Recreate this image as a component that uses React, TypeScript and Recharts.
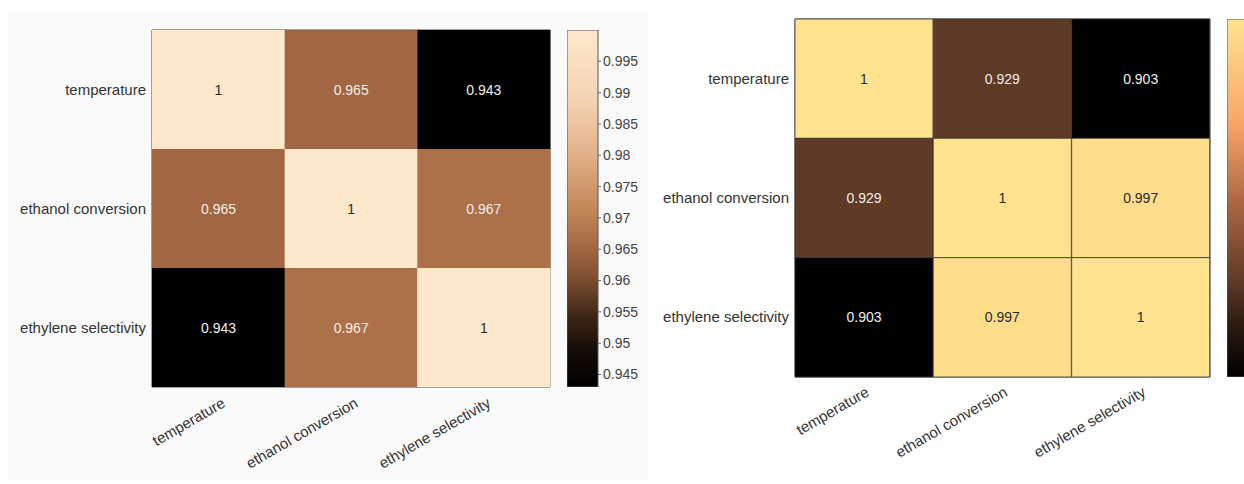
import { Bar, BarChart, Cell, LabelList, ReferenceArea, XAxis, YAxis } from "recharts";

const variables = ["temperature", "ethanol conversion", "ethylene selectivity"];

// left heatmap (correlation coefficients)
const leftTemperature = [1, 0.965, 0.943];
const leftEthanol = [0.965, 1, 0.967];
const leftEthylene = [0.943, 0.967, 1];
const leftRange = [0.943, 1];
const leftTicks = [0.945, 0.95, 0.955, 0.96, 0.965, 0.97, 0.975, 0.98, 0.985, 0.99, 0.995];

// right heatmap
const rightTemperature = [1, 0.929, 0.903];
const rightEthanol = [0.929, 1, 0.997];
const rightEthylene = [0.903, 0.997, 1];
const rightRange = [0.903, 1];

const FONT = "'Liberation Sans', Arial, Helvetica, sans-serif";

type Stop = [number, string];

const leftStops: Stop[] = [
  [0, "#000000"],
  [0.1, "#140c06"],
  [0.2, "#3e2716"],
  [0.3, "#7a4d2f"],
  [0.4, "#a86a45"],
  [0.5, "#c4875a"],
  [0.65, "#e0b088"],
  [0.8, "#f3d2b2"],
  [1, "#fde8cb"]
];

const rightStops: Stop[] = [
  [0, "#000000"],
  [0.15, "#2e1c12"],
  [0.27, "#5f3b27"],
  [0.5, "#b06a44"],
  [0.7, "#f6a466"],
  [1, "#ffe38f"]
];

function hex(c: string) {
  return [1, 3, 5].map((i) => parseInt(c.slice(i, i + 2), 16));
}

function colorAt(stops: Stop[], range: number[], v: number) {
  const t = Math.max(0, Math.min(1, (v - range[0]) / (range[1] - range[0])));
  for (let i = 1; i < stops.length; i++) {
    if (t <= stops[i][0]) {
      const [t0, c0] = stops[i - 1];
      const [t1, c1] = stops[i];
      const f = (t - t0) / (t1 - t0);
      const a = hex(c0);
      const b = hex(c1);
      const m = a.map((x, k) => Math.round(x + (b[k] - x) * f));
      return `rgb(${m[0]},${m[1]},${m[2]})`;
    }
  }
  return stops[stops.length - 1][1];
}

function buildTable(rows: number[][]) {
  return variables.map((name, j) => ({
    name,
    r0: 1,
    r1: 1,
    r2: 1,
    v0: rows[0][j],
    v1: rows[1][j],
    v2: rows[2][j]
  }));
}

const YTick = (props: any) => {
  const { x, y, payload } = props;
  return (
    <text x={x} y={y} dy={5} textAnchor="end" fontSize={15} fill="#333" fontFamily={FONT}>
      {variables[Math.floor(payload.value)]}
    </text>
  );
};

const makeXTick = (dx: number, dy: number) => (props: any) => {
  const { x, y, payload } = props;
  return (
    <g transform={`translate(${x + dx},${y + dy}) rotate(-30)`}>
      <text x={0} y={0} textAnchor="end" fontSize={15} fill="#333" fontFamily={FONT}>
        {payload.value}
      </text>
    </g>
  );
};

function Heatmap(props: {
  rows: number[][];
  stops: Stop[];
  range: number[];
  width: number;
  height: number;
  margin: { top: number; right: number; bottom: number; left: number };
  yWidth: number;
  xHeight: number;
  tickDx: number;
  tickDy: number;
  cellStroke: string;
}) {
  const table = buildTable(props.rows);
  const keys = ["0", "1", "2"];
  const label = (p: any) => {
    const { x, y, width, height, value } = p;
    const dark = value < props.range[0] + (props.range[1] - props.range[0]) * 0.55;
    return (
      <text
        x={x + width / 2}
        y={y + height / 2}
        dy={5}
        textAnchor="middle"
        fontSize={14}
        fontFamily={FONT}
        fill={dark ? "#f2eeea" : "#2a2a2a"}
      >
        {String(value)}
      </text>
    );
  };
  return (
    <BarChart
      width={props.width}
      height={props.height}
      data={table}
      margin={props.margin}
      barCategoryGap={0}
      barGap={0}
    >
      <XAxis
        dataKey="name"
        height={props.xHeight}
        axisLine={false}
        tickLine={false}
        tickSize={0}
        tickMargin={0}
        interval={0}
        tick={makeXTick(props.tickDx, props.tickDy)}
      />
      <YAxis
        type="number"
        domain={[0, 3]}
        reversed
        ticks={[0.5, 1.5, 2.5]}
        width={props.yWidth}
        axisLine={false}
        tickLine={false}
        tickSize={0}
        tickMargin={6}
        tick={<YTick />}
      />
      {keys.map((k) => (
        <Bar
          key={k}
          dataKey={`r${k}`}
          stackId="cells"
          isAnimationActive={false}
          stroke={props.cellStroke}
          strokeWidth={props.cellStroke === "none" ? 0 : 0.8}
        >
          {table.map((d: any) => (
            <Cell key={d.name} fill={colorAt(props.stops, props.range, d[`v${k}`])} />
          ))}
          <LabelList dataKey={`v${k}`} content={label} />
        </Bar>
      ))}
      <ReferenceArea y1={0} y2={3} fill="none" stroke="#444" strokeWidth={1} ifOverflow="visible" />
    </BarChart>
  );
}

function Colorbar(props: {
  id: string;
  stops: Stop[];
  range: number[];
  ticks: number[];
  width: number;
  height: number;
  yWidth: number;
}) {
  const data = [{ name: "cb", span: props.range }];
  return (
    <BarChart
      width={props.width}
      height={props.height}
      data={data}
      margin={{ top: 0, right: 0, bottom: 0, left: 0 }}
      barCategoryGap={0}
    >
      <defs>
        <linearGradient id={props.id} x1="0" y1="0" x2="0" y2="1">
          {[...props.stops].reverse().map(([t, c]) => (
            <stop key={t} offset={1 - t} stopColor={c} />
          ))}
        </linearGradient>
      </defs>
      <XAxis dataKey="name" hide />
      <YAxis
        type="number"
        orientation="right"
        domain={props.range}
        allowDataOverflow
        ticks={props.ticks}
        width={props.yWidth}
        axisLine={false}
        tickSize={3}
        tickMargin={2}
        tickLine={{ stroke: "#666" }}
        tick={{ fontSize: 14, fill: "#444", fontFamily: FONT }}
      />
      <Bar dataKey="span" fill={`url(#${props.id})`} stroke="#555" strokeWidth={1} isAnimationActive={false} />
    </BarChart>
  );
}

export default function App() {
  return (
    <div
      style={{
        position: "absolute",
        left: 0,
        top: 0,
        width: 1244,
        height: 484,
        overflow: "hidden",
        background: "#ffffff"
      }}
    >
      <div style={{ position: "absolute", left: 8, top: 12, width: 640, height: 468, background: "#fafafa" }} />
      <div style={{ position: "absolute", left: 0, top: 0 }}>
        <Heatmap
          rows={[leftTemperature, leftEthanol, leftEthylene]}
          stops={leftStops}
          range={leftRange}
          width={660}
          height={484}
          margin={{ top: 30, right: 110, bottom: 17, left: 12 }}
          yWidth={140}
          xHeight={80}
          tickDx={8}
          tickDy={19}
          cellStroke="none"
        />
      </div>
      <div style={{ position: "absolute", left: 567, top: 30 }}>
        <Colorbar id="cbLeft" stops={leftStops} range={leftRange} ticks={leftTicks} width={81} height={357} yWidth={50} />
      </div>
      <div style={{ position: "absolute", left: 663, top: 0, width: 581, overflow: "hidden" }}>
        <Heatmap
          rows={[rightTemperature, rightEthanol, rightEthylene]}
          stops={rightStops}
          range={rightRange}
          width={581}
          height={484}
          margin={{ top: 19, right: 34, bottom: 17, left: 2 }}
          yWidth={130}
          xHeight={90}
          tickDx={6}
          tickDy={18}
          cellStroke="#3a3a3a"
        />
      </div>
      <div style={{ position: "absolute", left: 1227, top: 19 }}>
        <Colorbar id="cbRight" stops={rightStops} range={rightRange} ticks={[]} width={40} height={358} yWidth={0} />
      </div>
    </div>
  );
}
